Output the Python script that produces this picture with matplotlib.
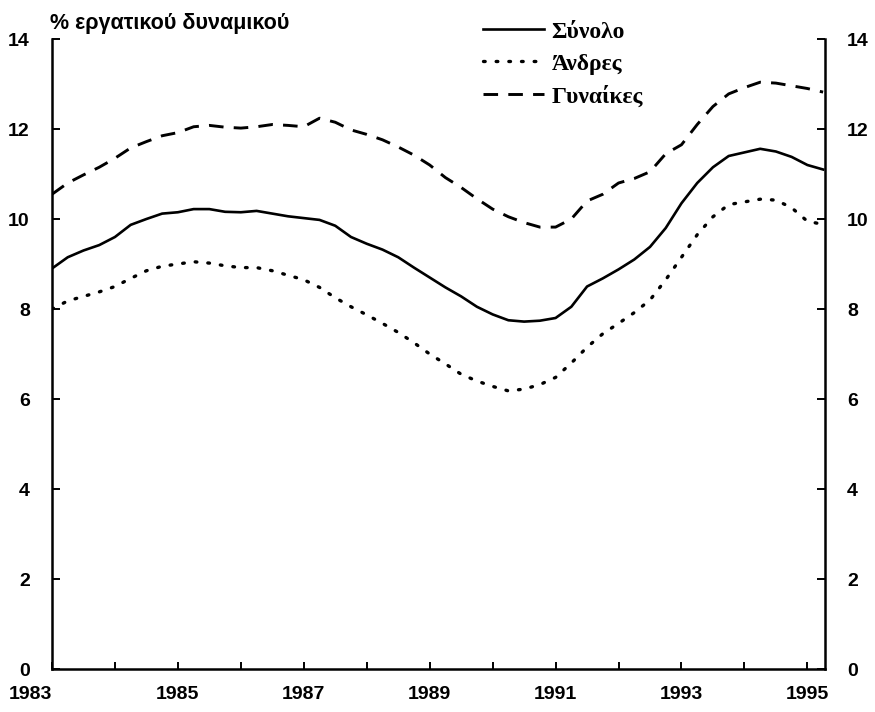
import numpy as np
import matplotlib.pyplot as plt

# quarterly observations, 1983Q1 .. 1995Q2
years = np.arange(1983.0, 1995.26, 0.25)

total = [8.90, 9.15, 9.30, 9.42, 9.60, 9.87, 10.00, 10.12, 10.15, 10.22,
         10.22, 10.16, 10.15, 10.18, 10.12, 10.06, 10.02, 9.98, 9.85, 9.60,
         9.45, 9.32, 9.15, 8.92, 8.70, 8.48, 8.28, 8.05, 7.88, 7.75,
         7.72, 7.74, 7.80, 8.05, 8.50, 8.68, 8.88, 9.10, 9.38, 9.80,
         10.35, 10.80, 11.15, 11.40, 11.48, 11.56, 11.50, 11.38, 11.20, 11.10]

men = [8.00, 8.18, 8.28, 8.38, 8.50, 8.68, 8.85, 8.95, 9.00, 9.05,
       9.02, 8.96, 8.92, 8.92, 8.85, 8.75, 8.65, 8.48, 8.25, 8.05,
       7.87, 7.68, 7.48, 7.25, 7.00, 6.78, 6.55, 6.40, 6.28, 6.18,
       6.22, 6.32, 6.48, 6.80, 7.15, 7.45, 7.68, 7.92, 8.20, 8.65,
       9.15, 9.65, 10.05, 10.32, 10.38, 10.44, 10.42, 10.25, 9.95, 9.88]

women = [10.55, 10.80, 10.98, 11.15, 11.35, 11.58, 11.72, 11.85, 11.92, 12.05,
         12.08, 12.04, 12.02, 12.05, 12.10, 12.08, 12.05, 12.24, 12.15, 11.98,
         11.88, 11.76, 11.60, 11.42, 11.20, 10.92, 10.70, 10.45, 10.22, 10.05,
         9.92, 9.82, 9.82, 10.00, 10.40, 10.55, 10.80, 10.90, 11.05, 11.45,
         11.65, 12.10, 12.50, 12.78, 12.92, 13.04, 13.02, 12.96, 12.90, 12.82]

labels = ['Σύνολο', 'Άνδρες', 'Γυναίκες']
year_ticks = list(range(1983, 1996))
year_labels = [str(y) if y % 2 == 1 else '' for y in year_ticks]
y_ticks = [0, 2, 4, 6, 8, 10, 12, 14]

fig = plt.figure(figsize=(8.75, 7.12), dpi=100)
ax = fig.add_axes([52/875, 43/712, (825-52)/875, (669-39)/712])

ax.plot(years, total, color='black', lw=1.9, label=labels[0])
ax.plot(years, men, color='black', lw=2.4, linestyle=(0, (0.5, 3.3)),
        dash_capstyle='round', label=labels[1])
ax.plot(years, women, color='black', lw=2.1, linestyle=(0, (5, 3.5)),
        label=labels[2])

ax.set_xlim(1983, 1995.28)
ax.set_ylim(0, 14)
ax.spines['top'].set_visible(False)
for s in ['left', 'right', 'bottom']:
    ax.spines[s].set_linewidth(1.8)

ax.set_xticks(year_ticks)
ax.set_xticklabels(year_labels)
ax.set_yticks(y_ticks)
ax.tick_params(axis='x', direction='in', length=5, width=1.4, pad=12,
               labelsize=14)
ax.tick_params(axis='y', direction='in', length=6, width=1.4, pad=16,
               labelsize=14, right=True, labelright=True)
for t in ax.get_xticklabels() + ax.get_yticklabels():
    t.set_fontfamily('Liberation Sans')
    t.set_fontweight('bold')
ax.get_xticklabels()[0].set_ha('right')
ax.get_xticklabels()[0].set_x(1983.35)

fig.text(50/875, 1 - 23/712, '% εργατικού δυναμικού', family='Liberation Sans',
         fontsize=15.5, fontweight='bold', va='center', ha='left')

ax.legend(loc='upper left', bbox_to_anchor=(483/875, 1 - 21/712),
          bbox_transform=fig.transFigure, frameon=False, borderpad=0,
          borderaxespad=0, handlelength=2.6, handletextpad=0.3,
          labelspacing=0.45,
          prop={'family': 'Liberation Serif', 'weight': 'bold', 'size': 17})

fig.savefig('out.png', dpi=100)
